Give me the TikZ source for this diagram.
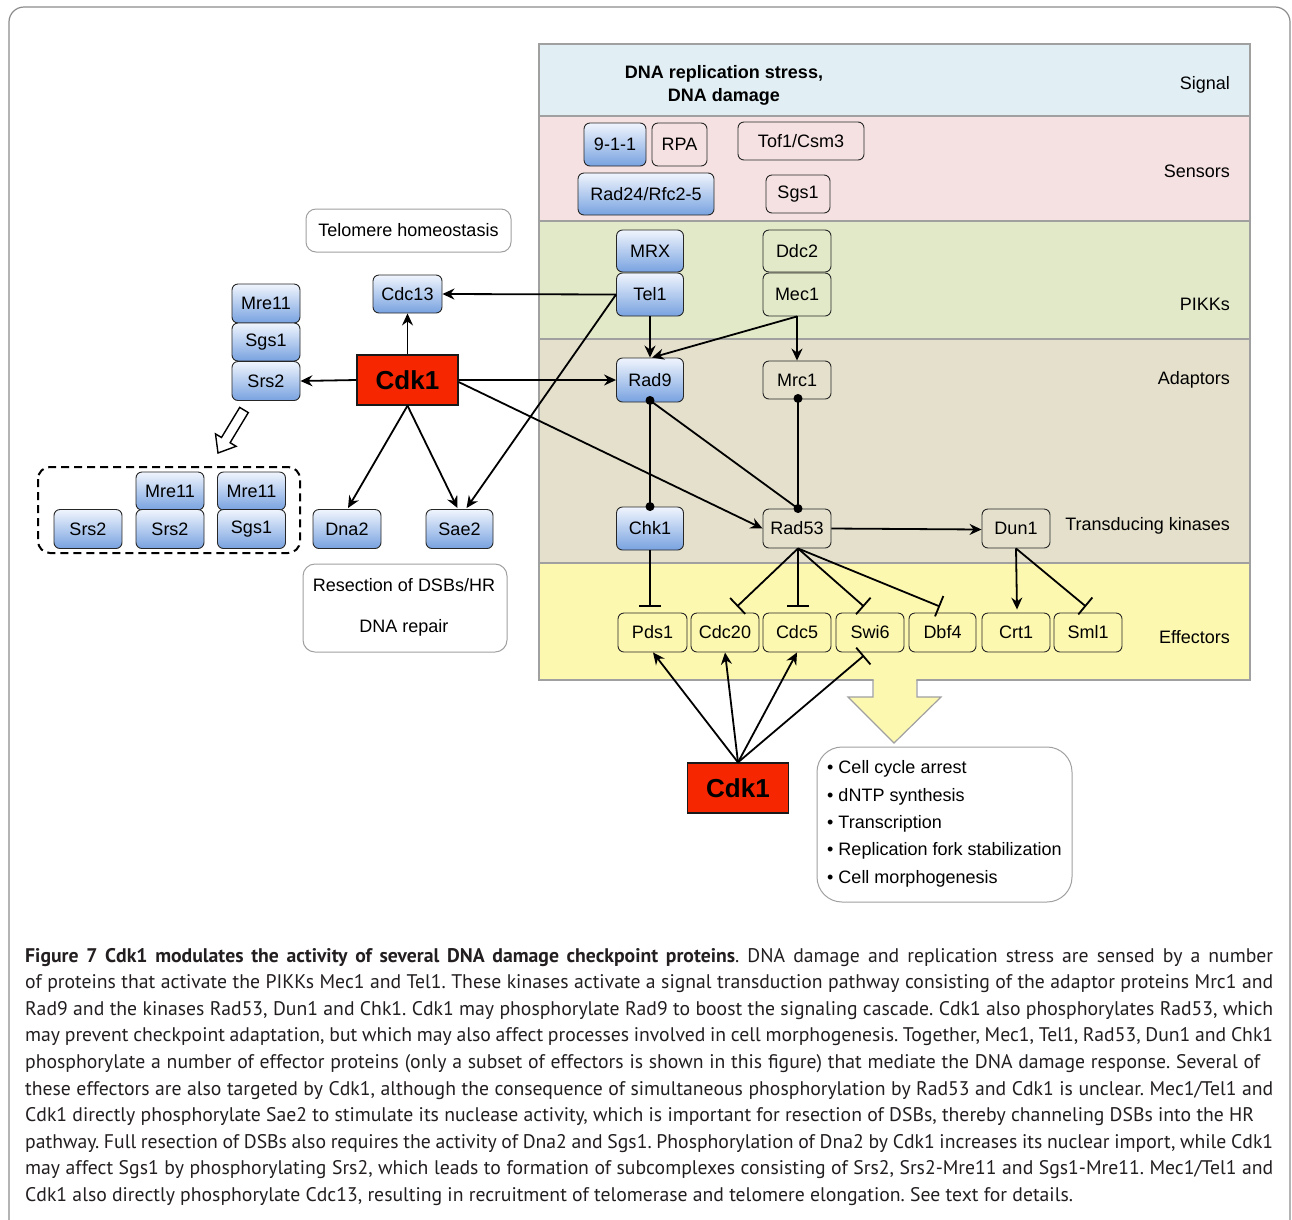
\documentclass[tikz,border=0pt]{standalone}
\usepackage{fontspec}
\setmainfont{Liberation Sans}
\newfontfamily\capfont{PT Sans}
\usetikzlibrary{arrows.meta,calc}
\definecolor{csig}{RGB}{225,239,245}
\definecolor{csen}{RGB}{245,225,225}
\definecolor{cpik}{RGB}{226,233,201}
\definecolor{cada}{RGB}{228,224,203}
\definecolor{ceff}{RGB}{253,248,176}
\definecolor{lanec}{RGB}{160,160,160}
\definecolor{framec}{RGB}{140,140,140}
\definecolor{blueT}{RGB}{240,245,253}
\definecolor{blueB}{RGB}{120,162,224}
\definecolor{cdkred}{RGB}{245,38,0}
\definecolor{captc}{RGB}{35,31,32}
\frenchspacing
\begin{document}
\begin{tikzpicture}[x=1pt,y=-1pt,
  lbl/.style={font=\fontsize{18}{21}\selectfont, inner sep=0pt},
  box/.style={draw=black!85, line width=0.9pt, rounded corners=6pt, inner sep=0pt,
    font=\fontsize{18}{21}\selectfont, fill=none},
  bluebox/.style={box, top color=blueT, bottom color=blueB},
  greybox/.style={draw=lanec, line width=1pt, rounded corners=12pt, inner sep=0pt,
    font=\fontsize{18}{21}\selectfont},
  cdkbox/.style={draw=black!90, line width=1.3pt, fill=cdkred, inner sep=0pt,
    minimum width=101pt, minimum height=50pt, font=\fontsize{26}{30}\selectfont\bfseries},
  arr/.style={line width=1.8pt, -{Stealth[length=12pt,width=11pt,inset=4pt]}},
  inh/.style={line width=1.8pt, -{Bar[width=22pt]}},
  ln/.style={line width=1.8pt},
  capl/.style={anchor=base west, inner sep=0pt, text=captc, font=\capfont\fontsize{19.7}{22}\selectfont}
]
\useasboundingbox (0,0) rectangle (1292,1219);
\fill[white] (0,0) rectangle (1292,1219);
\draw[framec, line width=1.2pt, rounded corners=15pt] (9,1260) -- (9,7) -- (1290,7) -- (1290,1260);

% lanes
\filldraw[fill=csig, draw=lanec, line width=1.2pt] (539,44) rectangle (1250,116);
\filldraw[fill=csen, draw=lanec, line width=1.2pt] (539,116) rectangle (1250,221);
\filldraw[fill=cpik, draw=lanec, line width=1.2pt] (539,221) rectangle (1250,339);
\filldraw[fill=cada, draw=lanec, line width=1.2pt] (539,339) rectangle (1250,563);
\filldraw[fill=ceff, draw=lanec, line width=1.2pt] (539,563) rectangle (1250,680);
% big yellow arrow
\fill[ceff] (873.6,678) -- (873.6,697) -- (848,697) -- (894,743) -- (941,697) -- (916.4,697) -- (916.4,678) -- cycle;
\draw[lanec, line width=1.2pt] (873,680) -- (873,697) -- (848,697) -- (894,743) -- (941,697) -- (917,697) -- (917,680);

% lane labels
\node[lbl, anchor=east] (lsig) at (1230,85) {Signal};
\node[lbl, anchor=east] (lsen) at (1230,171) {Sensors};
\node[lbl, anchor=east] (lpik) at (1230,304) {PIKKs};
\node[lbl, anchor=east] (lada) at (1230,380) {Adaptors};
\node[lbl, anchor=east] (ltra) at (1230,526) {Transducing kinases};
\node[lbl, anchor=east] (leff) at (1230,637) {Effectors};
\node[inner sep=0pt, align=center, font=\fontsize{18}{23}\selectfont\bfseries] (stress) at (724,85) {DNA replication stress,\\DNA damage};

% sensors
\node[bluebox, minimum width=62pt, minimum height=43pt] (n911) at (615,144.5) {9-1-1};
\node[box, minimum width=55pt, minimum height=43pt] (rpa) at (679.5,144.5) {RPA};
\node[box, minimum width=126pt, minimum height=38pt] (tof) at (801,141) {Tof1/Csm3};
\node[bluebox, minimum width=136pt, minimum height=42pt] (rad24) at (646,194) {Rad24/Rfc2-5};
\node[box, minimum width=64pt, minimum height=38pt] (sgs1s) at (798,194) {Sgs1};
% PIKKs
\node[bluebox, minimum width=67pt, minimum height=42pt] (mrx) at (650,251) {MRX};
\node[bluebox, minimum width=67pt, minimum height=43pt] (tel1) at (650,294.5) {Tel1};
\node[box, minimum width=68pt, minimum height=42pt] (ddc2) at (797,251) {Ddc2};
\node[box, minimum width=68pt, minimum height=43pt] (mec1) at (797,294.5) {Mec1};
% adaptors
\node[bluebox, minimum width=67pt, minimum height=44pt] (rad9) at (650,380) {Rad9};
\node[box, minimum width=68pt, minimum height=38pt] (mrc1) at (797,380) {Mrc1};
% kinases
\node[bluebox, minimum width=67pt, minimum height=43pt] (chk1) at (650,528.5) {Chk1};
\node[box, minimum width=68pt, minimum height=39pt] (rad53) at (797,528.5) {Rad53};
\node[box, minimum width=68pt, minimum height=39pt] (dun1) at (1016,528.5) {Dun1};
% effectors
\node[box, minimum width=69pt, minimum height=39pt] (pds1) at (652.5,632.5) {Pds1};
\node[box, minimum width=68pt, minimum height=39pt] (cdc20) at (725,632.5) {Cdc20};
\node[box, minimum width=68pt, minimum height=39pt] (cdc5) at (797,632.5) {Cdc5};
\node[box, minimum width=68pt, minimum height=39pt] (swi6) at (870,632.5) {Swi6};
\node[box, minimum width=67pt, minimum height=39pt] (dbf4) at (942.5,632.5) {Dbf4};
\node[box, minimum width=68pt, minimum height=39pt] (crt1) at (1016,632.5) {Crt1};
\node[box, minimum width=68pt, minimum height=39pt] (sml1) at (1088,632.5) {Sml1};

% left part
\node[greybox, rounded corners=10pt, minimum width=205pt, minimum height=43pt] (telo) at (408.5,230.5) {Telomere homeostasis};
\node[bluebox, minimum width=69pt, minimum height=38pt] (cdc13) at (407.5,294) {Cdc13};
\node[bluebox, minimum width=68pt, minimum height=39pt] (mre11a) at (266,303.5) {Mre11};
\node[bluebox, minimum width=68pt, minimum height=38pt] (sgs1a) at (266,342) {Sgs1};
\node[bluebox, minimum width=68pt, minimum height=39pt] (srs2a) at (266,381) {Srs2};
\node[cdkbox] (cdk1) at (407.5,380) {Cdk1};

\draw[line width=2pt, dashed, dash pattern=on 8pt off 5pt, rounded corners=12pt] (38,467) rectangle (300,553);
\node[bluebox, minimum width=68pt, minimum height=39pt] (srs2b) at (88,529) {Srs2};
\node[bluebox, minimum width=68pt, minimum height=38pt] (mre11b) at (170,491) {Mre11};
\node[bluebox, minimum width=68pt, minimum height=39pt] (srs2c) at (170,529) {Srs2};
\node[bluebox, minimum width=68pt, minimum height=38pt] (mre11c) at (251.5,491) {Mre11};
\node[bluebox, minimum width=68pt, minimum height=39pt] (sgs1b) at (251.5,529) {Sgs1};
\node[bluebox, minimum width=68pt, minimum height=39pt] (dna2) at (347,529) {Dna2};
\node[bluebox, minimum width=67pt, minimum height=39pt] (sae2) at (459.5,529) {Sae2};

\node[greybox, minimum width=204pt, minimum height=88pt] (resect) at (405,608) {};
\node[lbl] (rtxt1) at (404,585) {Resection of DSBs/HR};
\node[lbl] (rtxt2) at (404,628) {DNA repair};

% hollow arrow
\draw[line width=1.4pt, fill=white] (248.3,412.6) -- (239.7,407.4) -- (221.5,437.5) -- (215.5,433.9) -- (218,453) -- (236.1,446.3) -- (230.1,442.7) -- cycle;

% bottom Cdk1 and outcomes
\node[cdkbox] (cdk1b) at (738,788) {Cdk1};
\node[greybox, rounded corners=25pt, minimum width=255pt, minimum height=155pt] (outc) at (944.5,824.5) {};
\node[lbl, anchor=west] (o1) at (827,769) {• Cell cycle arrest};
\node[lbl, anchor=west] (o2) at (827,797) {• dNTP synthesis};
\node[lbl, anchor=west] (o3) at (827,824) {• Transcription};
\node[lbl, anchor=west] (o4) at (827,851) {• Replication fork stabilization};
\node[lbl, anchor=west] (o5) at (827,879) {• Cell morphogenesis};

% connectors
\draw[arr] (tel1.west) -- (cdc13.east);
\draw[arr] (tel1.west) -- ($(sae2.north)+(7,-1)$);
\draw[arr] (cdk1.north) -- (cdc13.south);
\draw[arr] (cdk1.west) -- (srs2a.east);
\draw[arr] (cdk1.east) -- (rad9.west);
\draw[arr] ($(cdk1.east)+(0,2)$) -- (rad53.west);
\draw[arr] (cdk1.south) -- ($(dna2.north)+(1,-1)$);
\draw[arr] (cdk1.south) -- ($(sae2.north)+(-2,-1)$);
\draw[arr] (tel1.south) -- (rad9.north);
\draw[arr] (mec1.south) -- ($(rad9.north)+(2,0)$);
\draw[arr] (mec1.south) -- (mrc1.north);

\coordinate (d9) at ($(rad9.south)+(0,-2)$);
\coordinate (dchk) at ($(chk1.north)+(0,0)$);
\coordinate (dmrc) at ($(mrc1.south)+(1,-1)$);
\coordinate (d53) at ($(rad53.north)+(1,0)$);
\draw[ln] (d9) -- (dchk);
\draw[ln] (d9) -- (d53);
\draw[ln] (dmrc) -- (d53);
\fill (d9) circle (4.5pt);
\fill (dchk) circle (4.5pt);
\fill (dmrc) circle (4.5pt);
\fill (d53) circle (4.5pt);

\draw[arr] (rad53.east) -- ($(dun1.west)+(0,1)$);
\draw[inh] (chk1.south) -- ($(chk1.south|-pds1.north)+(0,-6)$);
\draw[inh] ($(rad53.south)+(1,0)$) -- ($(cdc20.north)+(12,-6)$);
\draw[inh] ($(rad53.south)+(1,0)$) -- ($(cdc5.north)+(1,-6)$);
\draw[inh] ($(rad53.south)+(1,0)$) -- ($(swi6.north)+(-6,-6)$);
\draw[inh] ($(rad53.south)+(1,0)$) -- ($(dbf4.north)+(-2.5,-6)$);
\draw[arr] (dun1.south) -- ($(crt1.north)+(1,-3)$);
\draw[inh] (dun1.south) -- ($(sml1.north)+(-2,-6)$);

\draw[arr] (cdk1b.north) -- ($(pds1.south)+(0.5,0)$);
\draw[arr] (cdk1b.north) -- (cdc20.south);
\draw[arr] (cdk1b.north) -- (cdc5.south);
\draw[inh] (cdk1b.north) -- ($(swi6.south)+(-6,3)$);

% caption
\node[capl] (c1) at (25,962) {\hbox to 1248pt{\textbf{Figure 7 Cdk1 modulates the activity of several DNA damage checkpoint proteins}. DNA damage and replication stress are sensed by a number}};
\node[capl] (c2) at (25,988.6) {\hbox to 1248pt{of proteins that activate the PIKKs Mec1 and Tel1. These kinases activate a signal transduction pathway consisting of the adaptor proteins Mrc1 and}};
\node[capl] (c3) at (25,1015.2) {\hbox to 1248pt{Rad9 and the kinases Rad53, Dun1 and Chk1. Cdk1 may phosphorylate Rad9 to boost the signaling cascade. Cdk1 also phosphorylates Rad53, which}};
\node[capl] (c4) at (25,1041.8) {\hbox to 1248pt{may prevent checkpoint adaptation, but which may also affect processes involved in cell morphogenesis. Together, Mec1, Tel1, Rad53, Dun1 and Chk1}};
\node[capl] (c5) at (25,1068.4) {\hbox to 1235pt{phosphorylate a number of effector proteins (only a subset of effectors is shown in this figure) that mediate the DNA damage response. Several of}};
\node[capl] (c6) at (25,1095) {\hbox to 1248pt{these effectors are also targeted by Cdk1, although the consequence of simultaneous phosphorylation by Rad53 and Cdk1 is unclear. Mec1/Tel1 and}};
\node[capl] (c7) at (25,1121.6) {\hbox to 1229pt{Cdk1 directly phosphorylate Sae2 to stimulate its nuclease activity, which is important for resection of DSBs, thereby channeling DSBs into the HR}};
\node[capl] (c8) at (25,1148.2) {\hbox to 1248pt{pathway. Full resection of DSBs also requires the activity of Dna2 and Sgs1. Phosphorylation of Dna2 by Cdk1 increases its nuclear import, while Cdk1}};
\node[capl] (c9) at (25,1174.8) {\hbox to 1248pt{may affect Sgs1 by phosphorylating Srs2, which leads to formation of subcomplexes consisting of Srs2, Srs2-Mre11 and Sgs1-Mre11. Mec1/Tel1 and}};
\node[capl] (c10) at (25,1201.4) {Cdk1 also directly phosphorylate Cdc13, resulting in recruitment of telomerase and telomere elongation. See text for details.};
\end{tikzpicture}
\end{document}
